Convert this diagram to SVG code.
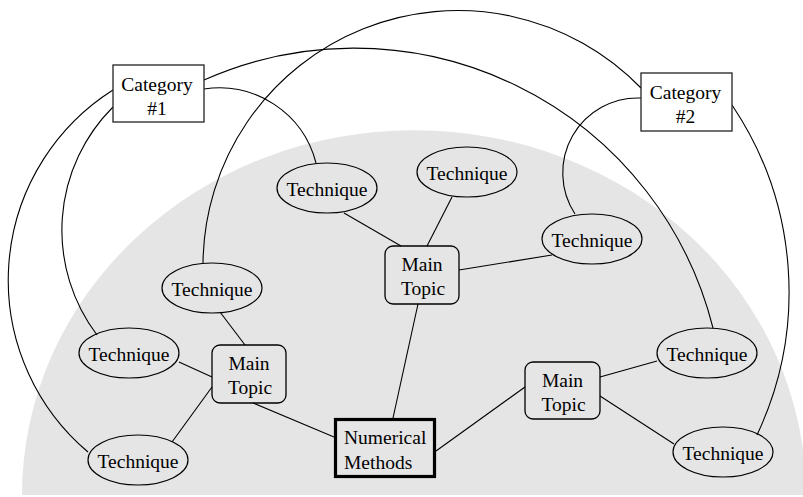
<svg xmlns="http://www.w3.org/2000/svg" width="803" height="497" viewBox="0 0 803 497">
<style>
text{font-family:'Liberation Serif','Times New Roman',Times,'DejaVu Serif',serif;font-size:19.5px;fill:#000}
.c{text-anchor:middle}
.tech{fill:none;stroke:#000;stroke-width:1.2}
.topic{fill:none;stroke:#000;stroke-width:1.3}
.cat{fill:#fff;stroke:#222;stroke-width:1.3}
.conn path,.conn line{fill:none;stroke:#000;stroke-width:1.1}
</style>
<rect width="803" height="497" fill="#fff"/>
<path d="M22,495 A392,365 0 0 1 806,495 Z" fill="#e5e5e5"/>
<g class="conn">
<path d="M113,90 A225,225 0 0 0 88,452"/>
<path d="M113,107 A174,174 0 0 0 97,335"/>
<path d="M204,89 A100,100 0 0 1 316,163"/>
<path d="M204,80 A370,370 0 0 1 713,328"/>
<path d="M203,263 A255,255 0 0 1 641,88"/>
<path d="M641,98 A75,75 0 0 0 575,214"/>
<path d="M732,105 A335,335 0 0 1 757,435"/>
<line x1="220" y1="312" x2="245" y2="345"/>
<line x1="179" y1="362" x2="212" y2="377"/>
<line x1="172" y1="442" x2="212" y2="387"/>
<line x1="253" y1="403" x2="334" y2="437"/>
<line x1="418" y1="304" x2="393" y2="418"/>
<line x1="436" y1="451" x2="525" y2="387"/>
<line x1="600" y1="377" x2="657" y2="361"/>
<line x1="600" y1="396" x2="674" y2="444"/>
<line x1="344" y1="213" x2="401" y2="246"/>
<line x1="452" y1="197" x2="427" y2="246"/>
<line x1="459" y1="270" x2="552" y2="255"/>
</g>
<g id="category1"><rect class="cat" x="113" y="65" width="91" height="57"/><text class="c" x="157" y="90.5" font-family="Liberation Serif, serif">Category</text><text class="c" x="157" y="114.5" font-family="Liberation Serif, serif">#1</text></g>
<g id="category2"><rect class="cat" x="641" y="73" width="91" height="58"/><text class="c" x="685.5" y="98.5" font-family="Liberation Serif, serif">Category</text><text class="c" x="685.5" y="122.5" font-family="Liberation Serif, serif">#2</text></g>
<g id="numerical"><rect x="335.5" y="419.5" width="99" height="57" fill="none" stroke="#000" stroke-width="3.2"/><text x="344" y="443.5" font-family="Liberation Serif, serif">Numerical</text><text x="344" y="468.5" font-family="Liberation Serif, serif">Methods</text></g>
<g id="topicLeft"><rect class="topic" x="212" y="345" width="74" height="58" rx="8"/><text class="c" x="249" y="370" font-family="Liberation Serif, serif">Main</text><text class="c" x="250" y="394" font-family="Liberation Serif, serif">Topic</text></g>
<g id="topicCenter"><rect class="topic" x="385" y="246" width="74" height="58" rx="8"/><text class="c" x="422" y="271" font-family="Liberation Serif, serif">Main</text><text class="c" x="423" y="295" font-family="Liberation Serif, serif">Topic</text></g>
<g id="topicRight"><rect class="topic" x="525" y="362" width="75" height="57" rx="8"/><text class="c" x="562.5" y="387" font-family="Liberation Serif, serif">Main</text><text class="c" x="563.5" y="411" font-family="Liberation Serif, serif">Topic</text></g>
<g id="tech1"><ellipse class="tech" cx="327" cy="188" rx="50" ry="25"/><text class="c" x="327" y="196" font-family="Liberation Serif, serif">Technique</text></g>
<g id="tech2"><ellipse class="tech" cx="467" cy="172" rx="50" ry="25"/><text class="c" x="467" y="180" font-family="Liberation Serif, serif">Technique</text></g>
<g id="tech3"><ellipse class="tech" cx="592" cy="239" rx="50" ry="25"/><text class="c" x="592" y="247" font-family="Liberation Serif, serif">Technique</text></g>
<g id="tech4"><ellipse class="tech" cx="212" cy="288" rx="50" ry="25"/><text class="c" x="212" y="296" font-family="Liberation Serif, serif">Technique</text></g>
<g id="tech5"><ellipse class="tech" cx="129" cy="353" rx="50" ry="25"/><text class="c" x="129" y="361" font-family="Liberation Serif, serif">Technique</text></g>
<g id="tech6"><ellipse class="tech" cx="138" cy="460" rx="50" ry="25"/><text class="c" x="138" y="468" font-family="Liberation Serif, serif">Technique</text></g>
<g id="tech7"><ellipse class="tech" cx="707" cy="353" rx="50" ry="25"/><text class="c" x="707" y="361" font-family="Liberation Serif, serif">Technique</text></g>
<g id="tech8"><ellipse class="tech" cx="723" cy="452" rx="50" ry="25"/><text class="c" x="723" y="460" font-family="Liberation Serif, serif">Technique</text></g>
</svg>
